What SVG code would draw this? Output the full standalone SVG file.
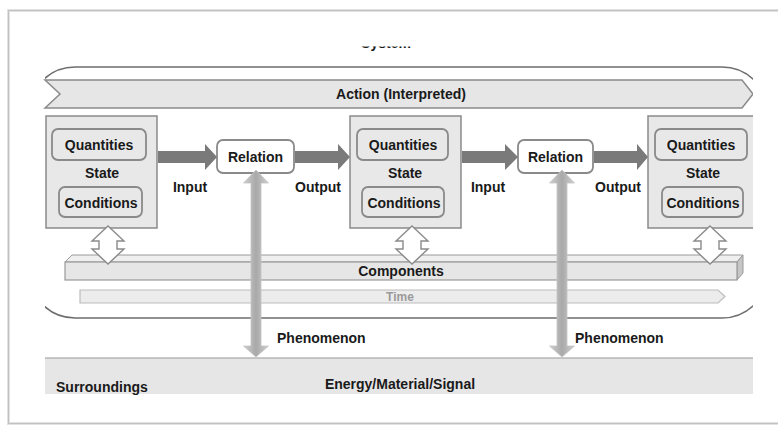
<svg xmlns="http://www.w3.org/2000/svg" width="778" height="427" viewBox="0 0 778 427">
  <style>
    text { font-family: "Liberation Sans", Arial, sans-serif; font-weight: bold; font-size: 14px; fill: #1a1a1a; }
    .mid { text-anchor: middle; }
    .panel { fill: #e8e8e8; stroke: #8a8a8a; stroke-width: 1.5; }
    .pill { fill: #e8e8e8; stroke: #8a8a8a; stroke-width: 1.8; }
    .rel { fill: #ffffff; stroke: #8a8a8a; stroke-width: 1.8; }
    .flow { fill: #7a7a7a; }
    .swap { fill: #ffffff; stroke: #8a8a8a; stroke-width: 1.4; stroke-linejoin: miter; }
    .phen { fill: url(#phenGrad); stroke: #c4c4c4; stroke-width: 0.8; }
  </style>
  <defs>
    <linearGradient id="phenGrad" x1="0" y1="0" x2="1" y2="0">
      <stop offset="0" stop-color="#cfcfcf"/>
      <stop offset="0.5" stop-color="#a9a9a9"/>
      <stop offset="1" stop-color="#cfcfcf"/>
    </linearGradient>
    <clipPath id="content">
      <rect x="0" y="0" width="753" height="427"/>
    </clipPath>
    <clipPath id="sysClip">
      <rect x="45" y="0" width="708" height="427"/>
    </clipPath>
    <clipPath id="titleClip">
      <rect x="300" y="46.5" width="200" height="10"/>
    </clipPath>
  </defs>

  <!-- page frame -->
  <rect x="0" y="0" width="778" height="427" fill="#ffffff"/>
  <rect x="8.5" y="10.5" width="790" height="413" fill="none" stroke="#e2e2e2" stroke-width="3"/>
  <rect x="8.5" y="10.5" width="790" height="413" fill="none" stroke="#c2c2c2" stroke-width="1"/>

  <g clip-path="url(#content)">
    <!-- system boundary title (cut off by the page edge above) -->
    <text class="mid" x="386" y="48" clip-path="url(#titleClip)">System</text>

    <!-- system boundary -->
    <g id="system" clip-path="url(#sysClip)">
      <rect x="29" y="67" width="739" height="251" rx="46" ry="46" fill="none" stroke="#6e6e6e" stroke-width="1.6"/>
    </g>

    <!-- action band -->
    <g id="action">
      <path d="M45,80 L742,80 L753,94 L742,108 L45,108 L60,94 Z" fill="#e6e6e6" stroke="#8a8a8a" stroke-width="1.5"/>
      <text class="mid" x="401" y="99">Action (Interpreted)</text>
    </g>

    <!-- surroundings -->
    <g id="surroundings">
      <rect x="45" y="358" width="708" height="36" fill="#e6e6e6"/>
      <line x1="45" y1="358" x2="753" y2="358" stroke="#9a9a9a" stroke-width="1.2"/>
      <text x="56" y="392">Surroundings</text>
      <text class="mid" x="400" y="389">Energy/Material/Signal</text>
    </g>

    <!-- components bar -->
    <g id="components">
      <polygon points="65,262 72,255 743,255 737,262" fill="#efefef" stroke="#9a9a9a" stroke-width="1"/>
      <polygon points="737,262 743,255 743,273 737,280" fill="#c6c6c6" stroke="#9a9a9a" stroke-width="1"/>
      <rect x="65" y="262" width="672" height="18" fill="#e6e6e6" stroke="#9a9a9a" stroke-width="1.2"/>
      <text class="mid" x="401" y="276">Components</text>
    </g>

    <!-- time bar -->
    <g id="time">
      <path d="M80,290 L718,290 L725,296.5 L718,303 L80,303 Z" fill="#ececec" stroke="#bcbcbc" stroke-width="1.2"/>
      <text class="mid" x="400" y="301" style="font-size:12px; fill:#9a9a9a">Time</text>
    </g>

    <!-- state 1 -->
    <g id="state1">
      <rect class="panel" x="46" y="116" width="111" height="112"/>
      <rect class="pill" x="52" y="129" width="94" height="31" rx="6"/>
      <text class="mid" x="99" y="150">Quantities</text>
      <text class="mid" x="102" y="178">State</text>
      <rect class="pill" x="59" y="187" width="83" height="30" rx="6"/>
      <text class="mid" x="101" y="208">Conditions</text>
    </g>

    <!-- state 2 -->
    <g id="state2">
      <rect class="panel" x="350" y="116" width="111" height="112"/>
      <rect class="pill" x="357" y="129" width="91" height="31" rx="6"/>
      <text class="mid" x="403" y="150">Quantities</text>
      <text class="mid" x="405" y="178">State</text>
      <rect class="pill" x="362" y="187" width="82" height="30" rx="6"/>
      <text class="mid" x="404" y="208">Conditions</text>
    </g>

    <!-- state 3 -->
    <g id="state3">
      <rect class="panel" x="648" y="116" width="120" height="112"/>
      <rect class="pill" x="655" y="129" width="92" height="31" rx="6"/>
      <text class="mid" x="701" y="150">Quantities</text>
      <text class="mid" x="703" y="178">State</text>
      <rect class="pill" x="662" y="187" width="81" height="30" rx="6"/>
      <text class="mid" x="703" y="208">Conditions</text>
    </g>

    <!-- relations -->
    <g id="relation1">
      <rect class="rel" x="217" y="140" width="77" height="33" rx="6"/>
      <text class="mid" x="255.5" y="162">Relation</text>
    </g>
    <g id="relation2">
      <rect class="rel" x="518" y="140" width="75" height="33" rx="6"/>
      <text class="mid" x="555.5" y="162">Relation</text>
    </g>

    <!-- connectors -->
    <g id="connectors">
      <!-- input / output flows -->
      <polygon class="flow" points="158,151 205,151 205,144 217,157 205,170 205,163 158,163"/>
      <polygon class="flow" points="295,151 338,151 338,144 350,157 338,170 338,163 295,163"/>
      <polygon class="flow" points="462,151 505,151 505,144 518,157 505,170 505,163 462,163"/>
      <polygon class="flow" points="594,151 637,151 637,144 648,157 637,170 637,163 594,163"/>

      <!-- state / components exchange -->
      <path class="swap" d="M108,226 L124,241 L117,241 L117,249 L124,249 L108,264 L92,249 L99,249 L99,241 L92,241 Z"/>
      <path class="swap" d="M412,226 L428,241 L421,241 L421,249 L428,249 L412,264 L396,249 L403,249 L403,241 L396,241 Z"/>
      <path class="swap" d="M710,226 L726,241 L719,241 L719,249 L726,249 L710,264 L694,249 L701,249 L701,241 L694,241 Z"/>

      <!-- phenomena between relation and surroundings -->
      <path class="phen" d="M256,170 L268.5,183 L261,183 L261,346 L268.5,346 L256,357 L243.5,346 L251,346 L251,183 L243.5,183 Z"/>
      <path class="phen" d="M562,170 L574.5,183 L567,183 L567,346 L574.5,346 L562,357 L549.5,346 L557,346 L557,183 L549.5,183 Z"/>
    </g>

    <!-- flow labels -->
    <g id="labels">
      <text class="mid" x="190" y="192">Input</text>
      <text class="mid" x="318" y="192">Output</text>
      <text class="mid" x="488" y="192">Input</text>
      <text class="mid" x="618" y="192">Output</text>
      <text x="277" y="343">Phenomenon</text>
      <text x="575" y="343">Phenomenon</text>
    </g>
  </g>
</svg>
